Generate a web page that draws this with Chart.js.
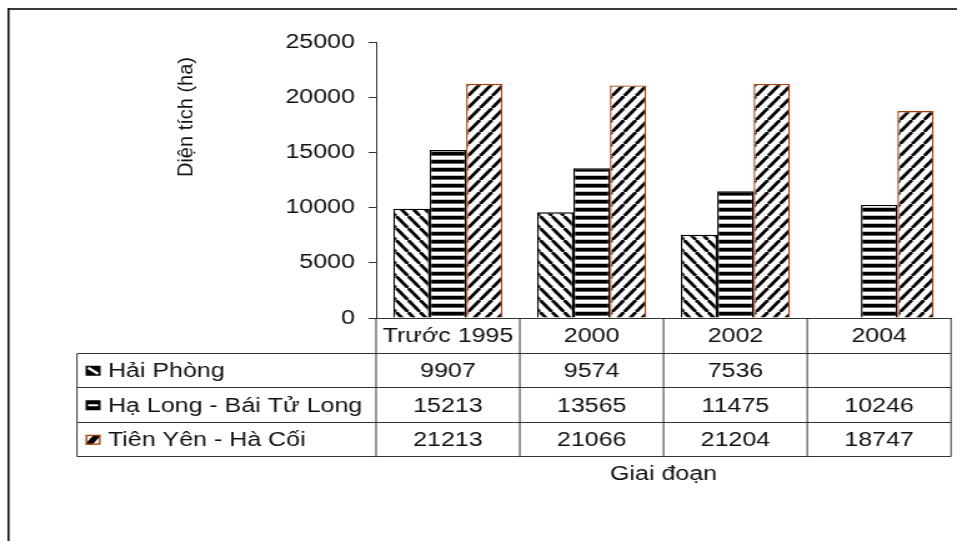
<!DOCTYPE html>
<html>
<head>
<meta charset="utf-8">
<script src="https://cdn.jsdelivr.net/npm/chart.js@4/dist/chart.umd.min.js"></script>
<style>
  html, body { margin: 0; padding: 0; background: #fff; overflow: hidden; }
  #c { display: block; }
</style>
</head>
<body>
<canvas id="c" width="766" height="541" style="width:957px;height:541px;"></canvas>
<script>
// Area (ha) by period for three mangrove zones
const categories = ['Trước 1995', '2000', '2002', '2004'];
const seriesNames = ['Hải Phòng', 'Hạ Long - Bái Tử Long', 'Tiên Yên - Hà Cối'];
const haiPhong = [9907, 9574, 7536, null];
const haLong = [15213, 13565, 11475, 10246];
const tienYen = [21213, 21066, 21204, 18747];
const yTicks = [0, 5000, 10000, 15000, 20000, 25000];
const yTitle = 'Diện tích (ha)';
const xTitle = 'Giai đoạn';

// the canvas is drawn 766 px wide and shown 957 px wide
const SX = 957 / 766;
const FONT = '"Liberation Sans", Arial, sans-serif';
const INK = '#111';
const RULE = '#333';
const BROWN = '#a8400c';

const canvas = document.getElementById('c');
const ctx = canvas.getContext('2d');

function makePattern(kind) {
  const t = document.createElement('canvas');
  const g = t.getContext('2d');
  if (kind === 'h') {
    t.width = 8; t.height = 8;
    g.fillStyle = '#fff'; g.fillRect(0, 0, 8, 8);
    g.fillStyle = '#000'; g.fillRect(0, 0, 8, 3);
    g.fillStyle = '#666'; g.fillRect(0, 3, 8, 1);
    g.fillStyle = '#bbb'; g.fillRect(0, 7, 8, 1);
  } else {
    const s = 12;
    t.width = s; t.height = s;
    g.fillStyle = '#fff'; g.fillRect(0, 0, s, s);
    g.strokeStyle = '#000'; g.lineWidth = 3.2;
    g.beginPath();
    for (let k = -1; k <= 1; k++) {
      if (kind === 'b') { g.moveTo(k * s, 0); g.lineTo(k * s + s, s); }
      else { g.moveTo(k * s, s); g.lineTo(k * s + s, 0); }
    }
    g.stroke();
  }
  const p = ctx.createPattern(t, 'repeat');
  p.setTransform(new DOMMatrix().scale(1 / SX, 1));
  return p;
}

const patHP = makePattern('b');
const patHL = makePattern('h');
const patTY = makePattern('f');
const seriesData = [haiPhong, haLong, tienYen];

function drawMarker(c, i, x, y) {
  const w = 12, h = 10;
  c.save();
  if (i === 0) {
    c.fillStyle = '#000'; c.fillRect(x, y - h / 2, w, h);
    c.strokeStyle = '#fff'; c.lineWidth = 2.2;
    c.beginPath(); c.moveTo(x + 2, y - h / 2 + 2); c.lineTo(x + w - 2, y + h / 2 - 2); c.stroke();
  } else if (i === 1) {
    c.fillStyle = '#000'; c.fillRect(x, y - h / 2, w, h);
    c.fillStyle = '#fff'; c.fillRect(x + 2, y - 1, w - 4, 2);
  } else {
    c.fillStyle = '#fff'; c.fillRect(x, y - h / 2, w, h);
    c.save();
    c.beginPath(); c.rect(x, y - h / 2, w, h); c.clip();
    c.fillStyle = '#000';
    c.beginPath();
    c.moveTo(x, y + h / 2); c.lineTo(x + w * 0.45, y + h / 2);
    c.lineTo(x + w, y - h / 2 + 1); c.lineTo(x + w, y - h / 2);
    c.lineTo(x + w * 0.55, y - h / 2); c.lineTo(x, y + h / 2 - 1);
    c.closePath(); c.fill();
    c.restore();
    c.strokeStyle = BROWN; c.lineWidth = 1.4;
    c.strokeRect(x + 0.7, y - h / 2 + 0.7, w - 1.4, h - 1.4);
  }
  c.restore();
}

// frame, y title and the data table under the x axis
const tablePlugin = {
  id: 'dataTable',
  afterDraw(chart) {
    const c = chart.ctx;
    const a = chart.chartArea;
    const x = chart.scales.x;
    const n = categories.length;
    const half = (a.right - a.left) / n / 2;
    const rowH = 34.5;
    const top = a.bottom;
    const rowsTop = top + rowH;
    const bottom = top + rowH * 4;
    const tableLeft = 61.6;

    c.save();
    // outer frame
    c.strokeStyle = '#3a3a3a';
    c.lineWidth = 2;
    c.beginPath(); c.moveTo(6, 9); c.lineTo(766, 9); c.stroke();
    c.strokeStyle = '#111';
    c.lineWidth = 1.6;
    c.beginPath(); c.moveTo(6.8, 8); c.lineTo(6.8, 541); c.stroke();

    // table rules
    c.strokeStyle = RULE;
    c.lineWidth = 1;
    c.beginPath();
    for (let r = 1; r <= 4; r++) {
      const yy = Math.round(top + rowH * r) + 0.5;
      c.moveTo(tableLeft, yy); c.lineTo(a.right, yy);
    }
    c.moveTo(tableLeft, Math.round(rowsTop) + 0.5);
    c.lineTo(tableLeft, Math.round(bottom) + 0.5);
    for (let i = 0; i <= n; i++) {
      const xx = i < n ? x.getPixelForValue(i) - half : x.getPixelForValue(n - 1) + half;
      c.moveTo(xx, top); c.lineTo(xx, Math.round(bottom) + 0.5);
    }
    c.stroke();

    // rows
    c.font = '20px ' + FONT;
    c.fillStyle = INK;
    c.textBaseline = 'middle';
    for (let s = 0; s < seriesNames.length; s++) {
      const cy = top + rowH * (s + 1.5) + 2;
      drawMarker(c, s, 68.5, cy - 1);
      c.fillStyle = INK;
      c.textAlign = 'left';
      c.fillText(seriesNames[s], 86.4, cy);
      c.textAlign = 'center';
      seriesData[s].forEach((v, i) => {
        if (v !== null) c.fillText(String(v), x.getPixelForValue(i), cy);
      });
    }

    // y axis title
    c.translate(149.7, 117);
    c.scale(1 / SX, 1);
    c.rotate(-Math.PI / 2);
    c.textAlign = 'center';
    c.textBaseline = 'middle';
    c.fillText(yTitle, 0, 0);
    c.restore();
  }
};

new Chart(ctx, {
  type: 'bar',
  data: {
    labels: categories,
    datasets: [
      { label: seriesNames[0], data: haiPhong, backgroundColor: patHP, borderColor: '#000', borderWidth: 1.4 },
      { label: seriesNames[1], data: haLong, backgroundColor: patHL, borderColor: '#000', borderWidth: 1.4 },
      { label: seriesNames[2], data: tienYen, backgroundColor: patTY, borderColor: BROWN, borderWidth: 1.4 }
    ]
  },
  options: {
    responsive: false,
    animation: false,
    devicePixelRatio: 1,
    layout: { padding: { top: 42, right: 4.8, left: 0, bottom: 0 } },
    plugins: { legend: { display: false }, tooltip: { enabled: false } },
    datasets: { bar: { categoryPercentage: 0.76, barPercentage: 1 } },
    scales: {
      x: {
        grid: { display: false, drawTicks: false },
        border: { display: true, color: RULE, width: 1 },
        ticks: { padding: 6, color: INK, font: { family: FONT, size: 20 }, maxRotation: 0, autoSkip: false },
        title: { display: true, text: xTitle, color: INK, font: { family: FONT, size: 20 }, padding: { top: 0, bottom: 55 } },
        afterFit: s => { s.height = 223; }
      },
      y: {
        min: 0,
        max: 25000,
        afterBuildTicks: s => { s.ticks = yTicks.map(v => ({ value: v })); },
        ticks: { padding: 11, color: INK, font: { family: FONT, size: 20 }, callback: v => String(v) },
        grid: { drawOnChartArea: false, drawTicks: true, tickLength: 6, tickColor: RULE, tickWidth: 1 },
        border: { display: true, color: RULE, width: 1 },
        afterFit: s => { s.width = 301; }
      }
    }
  },
  plugins: [tablePlugin]
});
</script>
</body>
</html>
